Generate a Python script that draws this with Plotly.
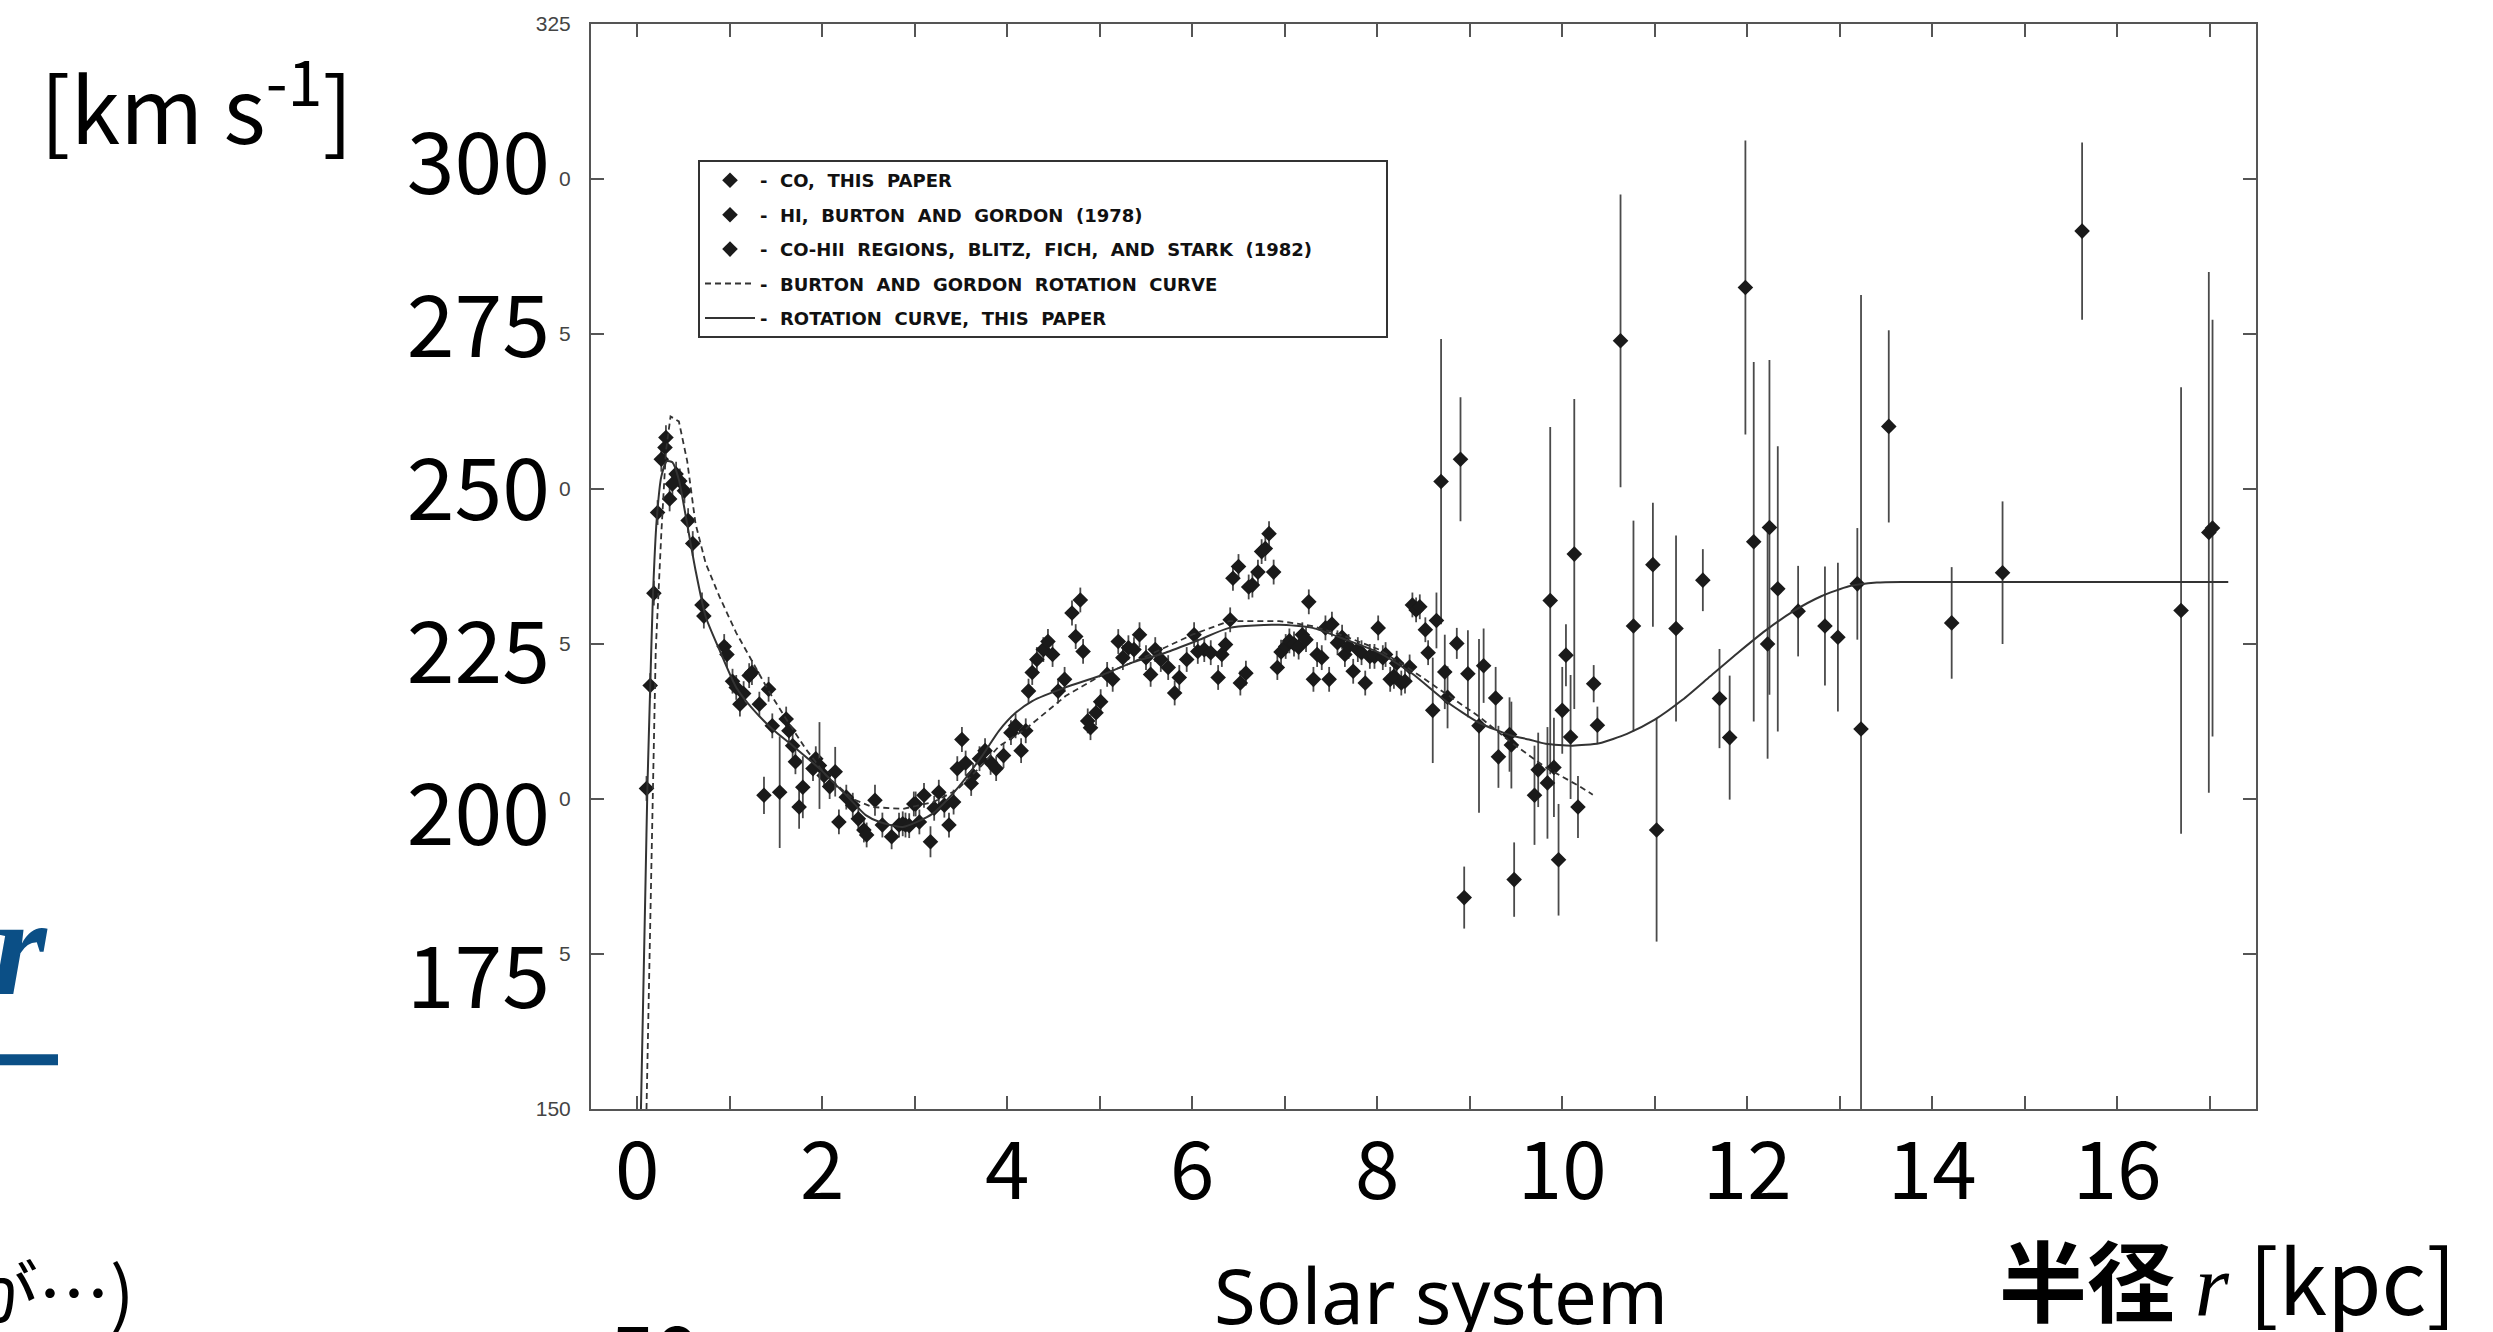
import plotly.graph_objects as go

# ---------------- data ----------------
# Rotation curve, this paper (solid)
rc_r = [0.04, 0.09, 0.11, 0.14, 0.17, 0.21, 0.26, 0.32, 0.38, 0.45, 0.52, 0.63, 0.74, 0.89, 1.07,
        1.25, 1.46, 1.68, 1.97, 2.26, 2.47, 2.62, 2.87, 3.19, 3.46, 3.73, 3.91, 4.09, 4.27, 4.63,
        4.99, 5.35, 5.71, 6.08, 6.40, 6.94, 7.30, 7.66, 8.02, 8.38, 8.74, 9.10, 9.46, 9.64, 9.82,
        10.11, 10.40, 10.70, 11.00, 11.30, 11.60, 11.90, 12.20, 12.50, 12.80, 13.10, 13.40, 13.70,
        14.5, 15.5, 16.5, 17.2]
rc_v = [150.0, 187.0, 202.0, 218.0, 233.0, 245.0, 252.0, 254.5, 254.3, 251.5, 246.0, 236.9, 229.4,
        224.0, 218.0, 214.5, 211.3, 208.6, 204.9, 200.6, 197.4, 196.3, 195.5, 197.6, 201.7, 207.0,
        211.0, 213.9, 215.8, 218.0, 219.8, 222.0, 223.6, 225.7, 227.6, 228.1, 227.6, 225.7, 223.6,
        220.2, 215.8, 212.3, 210.2, 209.6, 208.9, 208.6, 209.0, 210.5, 212.8, 216.0, 219.8, 223.6,
        227.2, 230.3, 232.7, 234.3, 234.9, 235.0, 235.0, 235.0, 235.0, 235.0]

# Burton & Gordon rotation curve (dashed)
bg_r = [0.10, 0.15, 0.20, 0.26, 0.31, 0.36, 0.45, 0.54, 0.63, 0.74, 0.89, 1.07, 1.25, 1.43, 1.61,
        1.82, 2.04, 2.33, 2.54, 2.87, 3.20, 3.46, 3.73, 3.91, 4.20, 4.63, 5.00, 5.50, 6.00, 6.40,
        6.94, 7.30, 7.66, 8.02, 8.38, 8.74, 9.10, 9.46, 9.82, 10.18, 10.33]
bg_v = [150.0, 188.0, 224.0, 242.8, 256.1, 261.7, 260.9, 254.5, 244.4, 238.0, 232.6, 226.8, 222.0,
        217.2, 212.9, 208.1, 203.8, 200.0, 198.7, 198.4, 199.5, 201.5, 205.5, 208.5, 211.3, 216.6,
        219.8, 223.0, 226.5, 228.7, 228.7, 227.9, 226.2, 224.1, 220.7, 217.0, 213.3, 209.0, 205.1,
        202.1, 200.7]

# CO, this paper
co_r = [0.10, 0.14, 0.18, 0.22, 0.26, 0.30, 0.31, 0.35, 0.38, 0.42, 0.46, 0.51, 0.55, 0.60, 0.70,
        0.72, 0.94, 0.97, 1.03, 1.07, 1.11, 1.15, 1.21, 1.24, 1.32, 1.42, 1.46, 1.61, 1.64, 1.68,
        1.71, 1.90, 1.93, 2.02, 2.08, 2.18, 2.26, 2.33, 2.39, 2.45, 2.48, 2.65, 2.75, 2.83, 2.90,
        2.99, 2.87, 2.94, 3.01, 3.05, 3.10, 3.21, 3.26, 3.32, 3.37, 3.42, 3.46, 3.51, 3.55, 3.61,
        3.63, 3.70, 3.76, 3.82, 3.88, 3.96, 4.04, 4.09, 4.15, 4.20, 4.23, 4.27, 4.32, 4.39, 4.44,
        4.49, 4.55, 4.62, 4.70, 4.74, 4.79, 4.82, 4.87, 4.90, 4.96, 5.01, 5.08, 5.14, 5.20, 5.25,
        5.31, 5.37, 5.43, 5.50, 5.55, 5.60, 5.66, 5.74, 5.81, 5.86, 5.94, 6.02, 6.06, 6.13, 6.20,
        6.28, 6.32, 6.36, 6.41, 6.44, 6.50, 6.52, 6.58, 6.61, 6.65, 6.71, 6.75, 6.79, 6.83, 6.88,
        6.92, 6.96, 7.01, 7.05, 7.10, 7.15, 7.19, 7.23, 7.26, 7.31, 7.35, 7.40, 7.44, 7.48, 7.51,
        7.57, 7.62, 7.65, 7.69, 7.74, 7.79, 7.83, 7.87, 7.92, 7.97, 8.01, 8.06, 8.09, 8.14, 8.18,
        8.21, 8.26, 8.30, 8.35, 8.38, 8.42, 8.46, 8.52, 8.55]
co_v = [201.7, 218.3, 233.2, 246.2, 254.8, 256.7, 258.3, 248.4, 250.8, 252.4, 251.3, 249.7, 244.9,
        241.2, 231.3, 229.5, 224.6, 223.3, 219.0, 218.0, 215.3, 217.0, 219.9, 220.4, 215.3, 217.7,
        211.8, 212.9, 211.0, 208.6, 206.0, 204.9, 206.5, 203.8, 202.0, 196.3, 200.3, 199.0, 196.8,
        195.0, 194.2, 195.8, 193.9, 195.8, 195.8, 199.2, 196.0, 195.7, 199.2, 196.3, 200.6, 198.5,
        201.1, 199.0, 195.8, 199.5, 204.9, 209.6, 205.8, 202.5, 203.8, 206.5, 207.8, 205.9, 204.9,
        207.0, 210.7, 211.8, 207.8, 211.0, 217.4, 220.4, 222.5, 224.1, 225.4, 223.3, 217.4, 219.3,
        230.0, 226.2, 232.1, 223.8, 212.6, 211.5, 213.9, 215.7, 220.1, 219.3, 225.4, 222.8, 224.4,
        224.1, 226.5, 222.8, 220.1, 224.1, 222.5, 221.2, 217.1, 219.6, 222.5, 226.5, 223.8, 224.1,
        223.6, 219.6, 223.3, 224.9, 228.9, 235.6, 237.5, 218.7, 220.3, 234.2, 234.5, 236.6, 239.9,
        240.4, 242.8, 236.6, 221.2, 223.7, 224.6, 225.5, 225.0, 224.5, 226.5, 225.7, 231.8, 219.3,
        223.3, 222.8, 227.6, 219.3, 228.2, 225.2, 226.1, 223.3, 224.6, 220.6, 224.1, 223.6, 218.7,
        223.0, 223.0, 227.6, 222.8, 223.3, 219.3, 219.8, 221.9, 218.7, 219.0, 221.3, 231.3, 230.5,
        231.0, 227.3, 223.6]
co_err = 2.0

# HI, Burton and Gordon (1978)
hi_r = [1.37, 1.54, 1.75, 1.79, 1.97, 2.14, 2.57, 3.17]
hi_v = [200.6, 201.1, 198.7, 201.9, 205.4, 204.4, 199.8, 193.1]
hi_e = [3.0, 9.0, 3.5, 5.0, 7.0, 4.0, 2.5, 2.5]

# CO-HII regions, Blitz, Fich and Stark (1982)
hii_r = [8.60, 8.64, 8.69, 8.73, 8.76, 8.86, 8.90, 8.94, 8.98, 9.10, 9.15, 9.28, 9.31, 9.43, 9.45,
         9.48, 9.70, 9.74, 9.84, 9.87, 9.91, 9.96, 10.00, 10.04, 10.09, 10.13, 10.17, 10.34, 10.38,
         10.63, 10.77, 10.98, 11.02, 11.23, 11.52, 11.70, 11.81, 11.98, 12.07, 12.22, 12.24, 12.33,
         12.55, 12.84, 12.98, 13.19, 13.23, 13.53, 14.21, 14.76, 15.62, 16.69, 16.99, 17.03]
hii_v = [214.3, 228.8, 251.2, 220.5, 216.4, 225.1, 254.8, 184.1, 220.2, 211.8, 221.5, 216.3, 206.8,
         210.4, 208.7, 187.0, 200.6, 204.7, 202.6, 232.0, 205.1, 190.2, 214.3, 223.2, 210.0, 239.5,
         198.7, 218.6, 211.9, 273.9, 227.9, 237.8, 195.0, 227.5, 235.3, 216.2, 209.9, 282.5, 241.5,
         225.0, 243.8, 233.9, 230.3, 227.9, 226.1, 234.7, 211.3, 260.1, 228.4, 236.5, 291.6, 230.4,
         243.0, 243.7]
hii_e = [8.5, 4.5, 23.0, 6.0, 5.0, 2.5, 10.0, 5.0, 7.0, 14.0, 6.0, 5.0, 5.0, 6.0, 7.0, 6.0, 8.0,
         6.0, 9.0, 28.0, 8.0, 9.0, 7.0, 5.0, 10.0, 25.0, 5.0, 3.0, 3.0, 23.6, 17.0, 10.0, 18.0,
         15.0, 5.0, 8.0, 10.0, 23.7, 29.0, 18.5, 27.0, 23.0, 7.3, 9.6, 12.0, 9.0, 70.0, 15.5, 9.0,
         11.5, 14.3, 36.0, 42.0, 33.6]

# axis ticks / labels
x_ticks = [0, 1, 2, 3, 4, 5, 6, 7, 8, 9, 10, 11, 12, 13, 14, 15, 16, 17]
x_labels = ["0", "", "2", "", "4", "", "6", "", "8", "", "10", "", "12", "", "14", "", "16", ""]
y_ticks = [150, 175, 200, 225, 250, 275, 300, 325]
y_small_labels = ["150", "5", "0", "5", "0", "5", "0", "325"]
y_big_ticks = [175, 200, 225, 250, 275, 300]
y_big_labels = ["175", "200", "225", "250", "275", "300"]

NB = "\u00a0"
legend_names = [
    "-" + NB * 2 + "CO," + NB * 2 + "THIS" + NB * 2 + "PAPER",
    "-" + NB * 2 + "HI," + NB * 2 + "BURTON" + NB * 2 + "AND" + NB * 2 + "GORDON" + NB * 2 + "(1978)",
    "-" + NB * 2 + "CO-HII" + NB * 2 + "REGIONS," + NB * 2 + "BLITZ," + NB * 2 + "FICH," + NB * 2
    + "AND" + NB * 2 + "STARK" + NB * 2 + "(1982)" + NB * 11,
    "-" + NB * 2 + "BURTON" + NB * 2 + "AND" + NB * 2 + "GORDON" + NB * 2 + "ROTATION" + NB * 2 + "CURVE",
    "-" + NB * 2 + "ROTATION" + NB * 2 + "CURVE," + NB * 2 + "THIS" + NB * 2 + "PAPER",
]

# ---------------- figure ----------------
W, H = 2493, 1332
PL, PR, PT, PB = 591, 2256, 17, 1109  # plot area in pixels


def px(X):
    return (X - PL) / (PR - PL)


def py(Y):
    return (PB - Y) / (PB - PT)


INK = "#1a1a1a"
ERR = "#4a4a4a"
JP = "Noto Sans CJK JP"

fig = go.Figure()

fig.add_trace(go.Scatter(
    x=co_r, y=co_v, mode="markers", name=legend_names[0], legendgroup="a",
    marker=dict(symbol="diamond", size=12, color=INK),
    error_y=dict(type="constant", value=co_err, width=0, thickness=1.8, color=ERR)))
fig.add_trace(go.Scatter(
    x=hi_r, y=hi_v, mode="markers", name=legend_names[1], legendgroup="b",
    marker=dict(symbol="diamond", size=12, color=INK),
    error_y=dict(type="data", array=hi_e, width=0, thickness=1.8, color=ERR)))
fig.add_trace(go.Scatter(
    x=hii_r, y=hii_v, mode="markers", name=legend_names[2], legendgroup="c",
    marker=dict(symbol="diamond", size=12, color=INK),
    error_y=dict(type="data", array=hii_e, width=0, thickness=1.8, color=ERR)))
fig.add_trace(go.Scatter(
    x=bg_r, y=bg_v, mode="lines", name=legend_names[3], legendgroup="d",
    line=dict(color="#333333", width=1.8, dash="6px,4px")))
fig.add_trace(go.Scatter(
    x=rc_r, y=rc_v, mode="lines", name=legend_names[4], legendgroup="e",
    line=dict(color="#333333", width=2, shape="spline", smoothing=0.6)))

# overlay axis carrying the large slide labels
fig.add_trace(go.Scatter(x=[None], y=[None], yaxis="y2", showlegend=False, hoverinfo="skip"))

fig.update_layout(
    width=W, height=H,
    margin=dict(l=PL, r=W - PR, t=PT, b=H - PB, pad=0),
    paper_bgcolor="white", plot_bgcolor="white",
    showlegend=True,
    legend=dict(
        x=px(698), y=py(154), xanchor="left", yanchor="top",
        bgcolor="white", bordercolor="#333333", borderwidth=2,
        font=dict(family="DejaVu Sans", size=18, color="#111111", weight="bold"),
        itemwidth=50, traceorder="grouped", tracegroupgap=8,
    ),
    xaxis=dict(
        range=[-0.5, 17.5], tickmode="array", tickvals=x_ticks, ticktext=x_labels,
        ticks="inside", ticklen=13, tickwidth=1.5, tickcolor="#555555",
        showline=True, linecolor="#555555", linewidth=2, mirror="ticks",
        showgrid=False, zeroline=False,
        tickfont=dict(family=JP, size=80, color="black"), ticklabelstandoff=-8,
    ),
    yaxis=dict(
        range=[150, 325], tickmode="array", tickvals=y_ticks, ticktext=y_small_labels,
        ticks="inside", ticklen=13, tickwidth=1.5, tickcolor="#555555",
        showline=True, linecolor="#555555", linewidth=2, mirror="ticks",
        showgrid=False, zeroline=False,
        tickfont=dict(family="Liberation Sans", size=21, color="#444444"), ticklabelstandoff=14,
    ),
    yaxis2=dict(
        overlaying="y", side="left", anchor="x", range=[154.9, 321.5],
        tickmode="array", tickvals=y_big_ticks, ticktext=y_big_labels,
        ticks="", showline=False, showgrid=False, zeroline=False,
        tickfont=dict(family=JP, size=86, color="black"), ticklabelstandoff=40,
    ),
)

ann = []
ann.append(dict(text="[km s<sup>-1</sup>]", x=px(38), y=py(95), xanchor="left", yanchor="middle",
                font=dict(family=JP, size=90, color="black")))
ann.append(dict(text="Solar system", x=px(1441), y=py(1296), xanchor="center", yanchor="middle",
                font=dict(family="Noto Sans", size=76, color="black")))
ann.append(dict(text="<b>半径</b>\u00a0<span style=\"font-family:'Liberation Serif'\"><i>r</i></span>\u00a0[kpc]",
                x=px(2458), y=py(1278), xanchor="right", yanchor="middle",
                font=dict(family=JP, size=88, color="black")))
ann.append(dict(text="<i><b>r</b></i>", x=px(50), y=py(945), xanchor="right", yanchor="middle",
                font=dict(family="Liberation Serif", size=140, color="#0b4f86")))
ann.append(dict(text="が…)", x=px(136), y=py(1290), xanchor="right", yanchor="middle",
                font=dict(family=JP, size=72, color="black")))
ann.append(dict(text="<b>50</b>", x=px(655), y=py(1293), xanchor="center", yanchor="top",
                font=dict(family=JP, size=76, color="black")))
for a in ann:
    a.update(xref="paper", yref="paper", showarrow=False)
fig.update_layout(annotations=ann)

fig.add_shape(type="rect", xref="paper", yref="paper",
              x0=px(-5), x1=px(58), y0=py(1065), y1=py(1054),
              fillcolor="#0b4f86", line=dict(width=0))

fig.write_html("out.html")
